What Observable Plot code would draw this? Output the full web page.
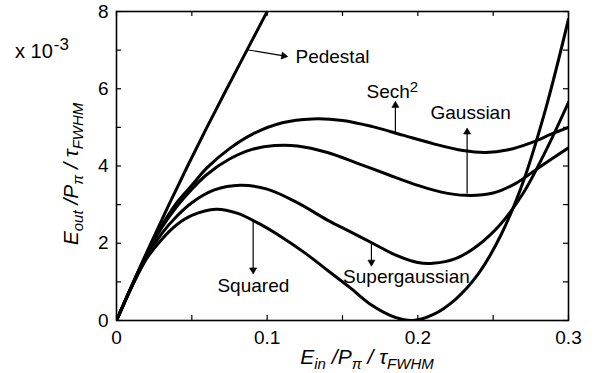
<!DOCTYPE html>
<html><head><meta charset="utf-8">
<script src="https://cdn.jsdelivr.net/npm/d3@7"></script>
<script src="https://cdn.jsdelivr.net/npm/@observablehq/plot@0.6"></script>
<style>
body{margin:0;background:#fff;}
#chart svg{display:block;}
</style>
</head><body><div id="chart"></div>
<script>
// ---- tick values ----
const xTicks = [0, 0.1, 0.2, 0.3];
const xMinorTicks = [0, 0.05, 0.1, 0.15, 0.2, 0.25, 0.3];
const yTicks = [0, 2, 4, 6, 8];
const yMinorTicks = [0, 1, 2, 3, 4, 5, 6, 7, 8];

// ---- series (x = Ein/Pπ/τFWHM, y = Eout/Pπ/τFWHM in units of 1e-3) ----
const pedestalX = [0, 0.0112, 0.0228, 0.0348, 0.0472, 0.0600, 0.0732, 0.0866, 0.1];
const pedestalY = [0, 1, 2, 3, 4, 5, 6, 7, 8];

const sechX = [0, 0.01, 0.02, 0.03, 0.04, 0.05, 0.06, 0.075, 0.09, 0.11, 0.13, 0.15, 0.17, 0.19, 0.21, 0.23, 0.245, 0.26, 0.275, 0.29, 0.3];
const sechY = [0, 0.88, 1.72, 2.45, 3.05, 3.5, 3.95, 4.45, 4.82, 5.12, 5.22, 5.18, 5.02, 4.8, 4.58, 4.4, 4.35, 4.42, 4.6, 4.85, 5.0];

const gaussX = [0, 0.01, 0.02, 0.03, 0.04, 0.05, 0.06, 0.075, 0.09, 0.105, 0.12, 0.14, 0.16, 0.18, 0.2, 0.215, 0.232, 0.25, 0.265, 0.28, 0.3];
const gaussY = [0, 0.88, 1.7, 2.4, 2.95, 3.4, 3.78, 4.18, 4.43, 4.53, 4.52, 4.35, 4.07, 3.78, 3.5, 3.33, 3.24, 3.3, 3.55, 3.95, 4.47];

const superX = [0, 0.01, 0.02, 0.03, 0.04, 0.05, 0.065, 0.082, 0.1, 0.12, 0.14, 0.155, 0.17, 0.185, 0.2, 0.21, 0.225, 0.24, 0.255, 0.27, 0.285, 0.3];
const superY = [0, 0.87, 1.65, 2.25, 2.7, 3.05, 3.38, 3.5, 3.4, 3.05, 2.6, 2.3, 2.0, 1.7, 1.5, 1.48, 1.6, 1.95, 2.5, 3.3, 4.4, 5.65];

const squaredX = [0, 0.01, 0.02, 0.03, 0.04, 0.05, 0.066, 0.08, 0.095, 0.11, 0.125, 0.14, 0.155, 0.17, 0.185, 0.197, 0.21, 0.225, 0.24, 0.255, 0.27, 0.285, 0.3];
const squaredY = [0, 0.86, 1.6, 2.1, 2.48, 2.72, 2.88, 2.78, 2.5, 2.15, 1.75, 1.3, 0.85, 0.38, 0.08, 0.0, 0.15, 0.55, 1.2, 2.2, 3.6, 5.5, 7.8];

// ---- annotations ----
const labelNames = ["Pedestal", "Sech2", "Gaussian", "Squared", "Supergaussian"];
const labelX = [0.1188, 0.1659, 0.2084, 0.0670, 0.1504];
const labelY = [6.66, 5.75, 5.21, 0.75, 0.96];

const arrowX1 = [0.0867, 0.1851, 0.2327, 0.0907, 0.1692];
const arrowY1 = [7.01, 4.88, 3.29, 2.61, 2.03];
const arrowX2 = [0.111, 0.1851, 0.2327, 0.0907, 0.1692];
const arrowY2 = [6.85, 5.57, 4.88, 1.31, 1.51];

// ---- build tables ----
const seriesDefs = [
  ["Pedestal", pedestalX, pedestalY],
  ["Sech2", sechX, sechY],
  ["Gaussian", gaussX, gaussY],
  ["Supergaussian", superX, superY],
  ["Squared", squaredX, squaredY]
];
const rows = seriesDefs.flatMap(([name, xs, ys]) => xs.map((x, i) => ({series: name, x, y: ys[i]})));
const labels = labelNames.map((t, i) => ({text: t, x: labelX[i], y: labelY[i]}));

const W = 601, H = 373;
const mL = 116, mR = 33, mT = 11, mB = 53;
const innerW = W - mL - mR, innerH = H - mT - mB;
const TL = 5; // tick length
const xDomain = [0, 0.3], yDomain = [0, 8];

// screen-space direction of each arrow (for rotating its head)
const sx = d3.scaleLinear(xDomain, [mL, W - mR]);
const sy = d3.scaleLinear(yDomain, [H - mB, mT]);
const arrows = arrowX1.map((x1, i) => {
  const dx = sx(arrowX2[i]) - sx(x1), dy = sy(arrowY2[i]) - sy(arrowY1[i]);
  return {x1, y1: arrowY1[i], x2: arrowX2[i], y2: arrowY2[i], angle: Math.atan2(dx, -dy) * 180 / Math.PI};
});

const font = "'Liberation Sans', Arial, Helvetica, sans-serif";

const chart = Plot.plot({
  width: W, height: H,
  marginLeft: mL, marginRight: mR, marginTop: mT, marginBottom: mB,
  style: {fontFamily: font, fontSize: "19px", color: "black", background: "white"},
  x: {domain: xDomain, ticks: xTicks, tickFormat: d => String(+d.toFixed(2)), tickSize: 0, tickPadding: 10, label: null},
  y: {domain: yDomain, ticks: yTicks, tickFormat: d => String(d), tickSize: 0, tickPadding: 8, label: null},
  marks: [
    Plot.tickX(xMinorTicks, {x: d => d, insetTop: innerH - TL, stroke: "black", strokeWidth: 1.2}),
    Plot.tickX(xMinorTicks, {x: d => d, insetBottom: innerH - TL, stroke: "black", strokeWidth: 1.2}),
    Plot.tickY(yMinorTicks, {y: d => d, insetRight: innerW - TL, stroke: "black", strokeWidth: 1.2}),
    Plot.tickY(yMinorTicks, {y: d => d, insetLeft: innerW - TL, stroke: "black", strokeWidth: 1.2}),
    Plot.line(rows, {x: "x", y: "y", z: "series", curve: "catmull-rom", stroke: "black", strokeWidth: 3, clip: true}),
    Plot.link(arrows, {x1: "x1", y1: "y1", x2: "x2", y2: "y2", stroke: "black", strokeWidth: 1.2}),
    Plot.dot(arrows, {x: "x2", y: "y2", symbol: "triangle", r: 2.6, rotate: "angle", fill: "black", stroke: "black", strokeWidth: 0.6}),
    Plot.text(labels, {x: "x", y: "y", text: "text", textAnchor: "start", lineAnchor: "bottom", fontSize: 19, fill: "black"}),
    Plot.frame({stroke: "black", strokeWidth: 1.6})
  ]
});

document.getElementById("chart").appendChild(chart);

const svg = d3.select(chart);

// superscript for Sech2
svg.selectAll("text").filter(function() { return this.textContent === "Sech2"; }).each(function() {
  const t = d3.select(this);
  t.text(null);
  t.append("tspan").text("Sech");
  t.append("tspan").attr("font-size", 15).attr("dy", "-0.45em").text("2");
});

// ---- rich-text axis labels ----
function richLabel(g, parts) {
  const t = g.append("text").attr("font-family", font).attr("font-style", "italic").attr("fill", "black").attr("text-anchor", "middle");
  let inSub = false;
  parts.forEach(([s, sub]) => {
    const ts = t.append("tspan").text(s);
    if (sub) { ts.attr("font-size", 15).attr("dy", inSub ? 0 : 5); inSub = true; }
    else { ts.attr("font-size", 21).attr("dy", inSub ? -5 : 0); inSub = false; }
  });
  return t;
}
const xLab = [["E"], ["in", true], [" /P"], ["\u03C0", true], [" / \u03C4"], ["FWHM", true]];
const yLab = [["E"], ["out", true], [" /P"], ["\u03C0", true], [" / \u03C4"], ["FWHM", true]];
richLabel(svg.append("g").attr("transform", "translate(367,364)"), xLab);
richLabel(svg.append("g").attr("transform", "translate(78,174) rotate(-90)"), yLab);

const exp = svg.append("text").attr("x", 15).attr("y", 58).attr("font-family", font).attr("fill", "black").attr("text-anchor", "start");
exp.append("tspan").attr("font-size", 20).text("x 10");
exp.append("tspan").attr("font-size", 17).attr("dy", -8).attr("dx", 1).text("-3");
</script>
</body></html>
